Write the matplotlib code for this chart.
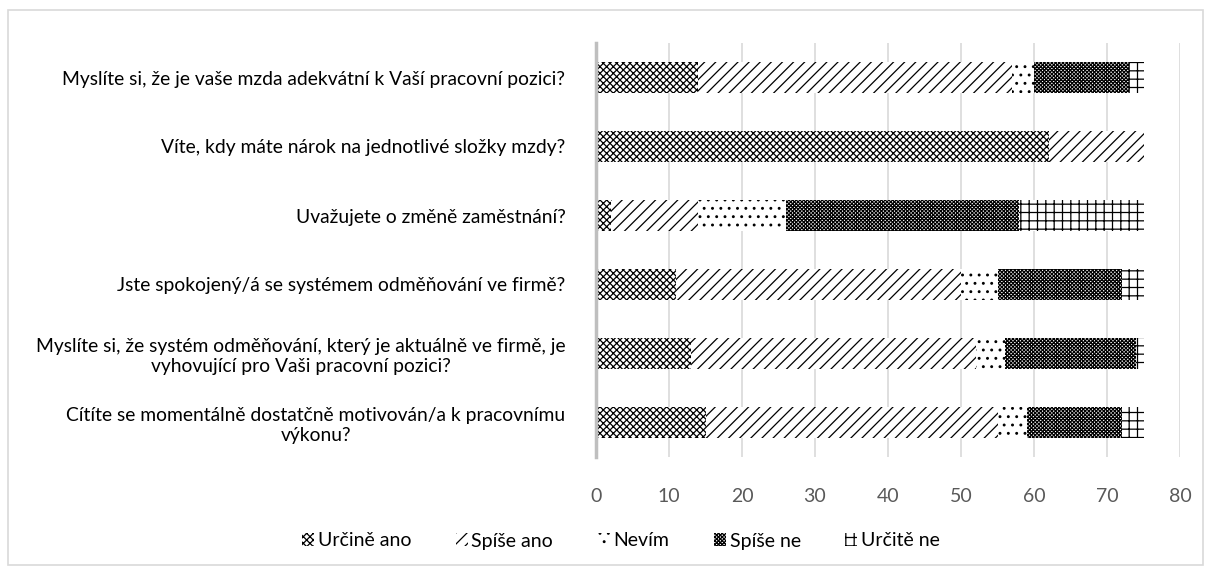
import matplotlib
matplotlib.use("Agg")
import matplotlib.pyplot as plt
from matplotlib.patches import Rectangle, Patch
import numpy as np

plt.rcParams['font.family'] = ['Lato', 'DejaVu Sans']
plt.rcParams['hatch.linewidth'] = 0.9

categories = [
    "Myslíte si, že je vaše mzda adekvátní k Vaší pracovní pozici?",
    "Víte, kdy máte nárok na jednotlivé složky mzdy?",
    "Uvažujete o změně zaměstnání?",
    "Jste spokojený/á se systémem odměňování ve firmě?",
    "Myslíte si, že systém odměňování, který je aktuálně ve firmě, je\nvyhovující pro Vaši pracovní pozici?",
    "Cítíte se momentálně dostatčně motivován/a k pracovnímu\nvýkonu?",
]
series_names = ["Určině ano", "Spíše ano", "Nevím", "Spíše ne", "Určitě ne"]
urcite_ano = [14, 62, 2, 11, 13, 15]
spise_ano = [43, 13, 12, 39, 39, 40]
nevim = [3, 0, 12, 5, 4, 4]
spise_ne = [13, 0, 32, 17, 18, 13]
urcite_ne = [2, 0, 17, 3, 1, 3]
xticks = [0, 10, 20, 30, 40, 50, 60, 70, 80]

series = [urcite_ano, spise_ano, nevim, spise_ne, urcite_ne]
hatches = ['xxxxx', '///', '..', 'xxxxxxxxx', '++']

fig = plt.figure(figsize=(12.11, 5.72), dpi=100)
ax = fig.add_axes([596/1211, 1-457/572, (1180-596)/1211, (457-43)/572])

y = np.arange(len(categories))
left = np.zeros(len(categories))
handles = []
for name, vals, h in zip(series_names, series, hatches):
    vals = np.array(vals, dtype=float)
    ax.barh(y, vals, left=left, height=0.45, color='white', edgecolor='black',
            hatch=h, linewidth=0)
    left += vals
    handles.append(Patch(facecolor='white', edgecolor='black', hatch=h, linewidth=0, label=name))

ax.set_xlim(0, 80)
ax.set_ylim(len(categories)-0.5, -0.5)
ax.set_xticks(xticks)
ax.set_xticklabels([str(t) for t in xticks], fontsize=14, color='#595959')
ax.set_yticks(y)
ax.set_yticklabels(categories, fontsize=13.9, color='black', multialignment='center')
ax.tick_params(axis='y', length=0, pad=22)
ax.tick_params(axis='x', length=0, pad=22)
ax.grid(axis='x', color='#d9d9d9', linewidth=1.2)
ax.set_axisbelow(True)
for s in ['top', 'right', 'bottom']:
    ax.spines[s].set_visible(False)
ax.spines['left'].set_color('#bfbfbf')
ax.spines['left'].set_linewidth(2.5)

fig.legend(handles=handles, loc='center', bbox_to_anchor=(621/1211, 1-541/572), ncol=5,
           frameon=False, fontsize=14, handlelength=0.6, handleheight=0.6,
           handletextpad=0.2, columnspacing=2.3)

fig.patches.append(Rectangle((8/1211, 1-565/572), (1203-8)/1211, (565-10)/572,
                             transform=fig.transFigure, fill=False,
                             edgecolor='#d9d9d9', linewidth=1.2))

fig.savefig('out.png', dpi=100)
